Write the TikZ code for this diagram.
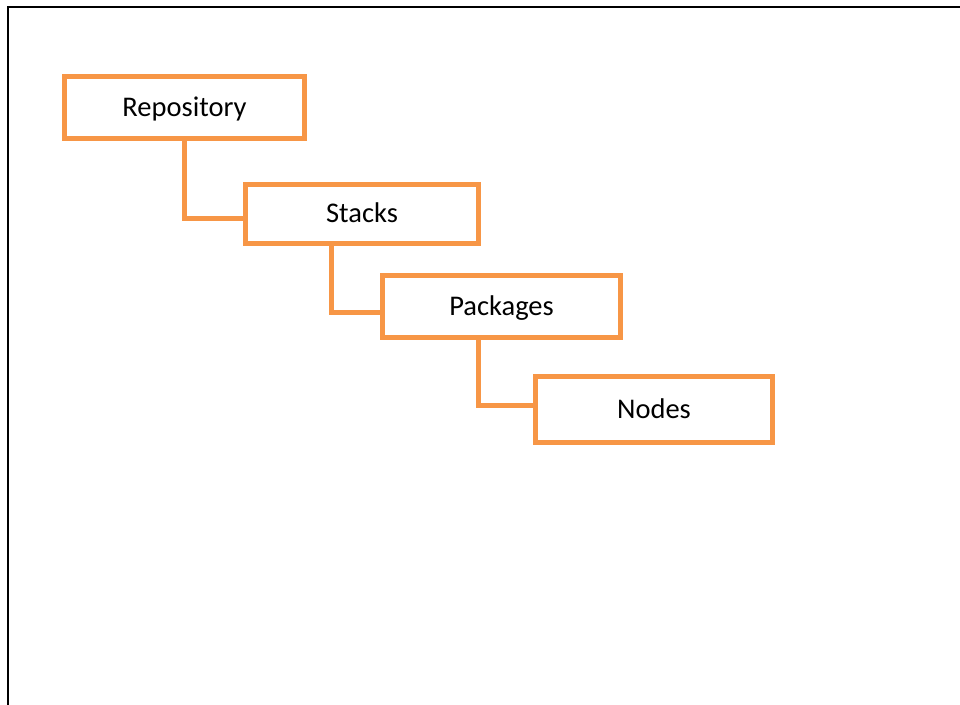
\documentclass[tikz,border=0pt]{standalone}
\usepackage{fontspec}
\setmainfont{Carlito}
\definecolor{boxorange}{HTML}{F79646}
\begin{document}
\begin{tikzpicture}[x=1pt,y=-1pt,
  box/.style={draw=boxorange, line width=5pt, rectangle, inner sep=0pt, outer sep=0pt,
    font=\fontsize{28.5}{32}\selectfont, text=black, fill=white,
    text height=21pt, text depth=4pt},
  link/.style={draw=boxorange, line width=5pt}]
\useasboundingbox (0,0) rectangle (960,704);
\clip (0,0) rectangle (960,704);
\draw[line width=2.3pt, black] (8,7) rectangle (975,720);
\node[box, minimum width=240pt, minimum height=62pt] (rep) at (184.5,107.5) {Repository};
\node[box, minimum width=233pt, minimum height=59.5pt] (stk) at (362,213.75) {Stacks};
\node[box, minimum width=238pt, minimum height=62pt] (pkg) at (501.5,306.5) {Packages};
\node[box, minimum width=237pt, minimum height=66pt] (nod) at (654,409.5) {Nodes};
\draw[link] (rep.south) |- ([yshift=-4.25pt]stk.west);
\draw[link] ([xshift=-30.5pt]stk.south) |- ([yshift=-6pt]pkg.west);
\draw[link] ([xshift=-23pt]pkg.south) |- ([yshift=4pt]nod.west);
\end{tikzpicture}
\end{document}
